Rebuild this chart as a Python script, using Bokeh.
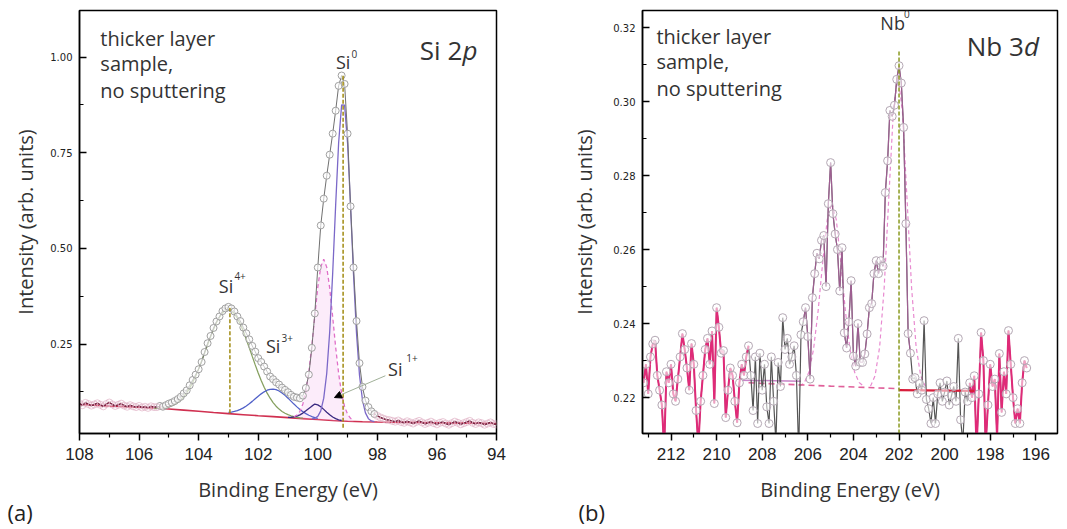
import numpy as np
from bokeh.plotting import figure
from bokeh.models import Range1d, FixedTicker, Label, Arrow, NormalHead, NumeralTickFormatter, Title
from bokeh.layouts import row
from bokeh.embed import file_html
from bokeh.resources import INLINE

FONT = "Open Sans"
TICKFONT = "Liberation Sans"
TXT = "#333333"

# ---------------- Panel (a): Si 2p ----------------
si_energy = np.round(np.arange(108.0, 93.95, -0.1), 1)
si_intensity = [
    0.094, 0.090, 0.096, 0.093, 0.089, 0.092, 0.095, 0.091, 0.087, 0.093,
    0.097, 0.092, 0.088, 0.091, 0.094, 0.089, 0.086, 0.090, 0.087, 0.085,
    0.088, 0.084, 0.086, 0.083, 0.087, 0.085,
    0.085, 0.088, 0.086, 0.090, 0.094, 0.097, 0.101, 0.106, 0.112, 0.121,
    0.129, 0.142, 0.156, 0.170, 0.184, 0.203, 0.229, 0.252, 0.271, 0.292,
    0.309, 0.322, 0.336, 0.343, 0.347,
    0.343, 0.335, 0.322, 0.310, 0.293, 0.278, 0.262, 0.245, 0.230, 0.213,
    0.203, 0.191, 0.178, 0.165, 0.158, 0.150, 0.144, 0.136, 0.130, 0.124,
    0.117, 0.112, 0.110, 0.108, 0.115,
    0.135, 0.170, 0.240, 0.330, 0.450, 0.560, 0.630, 0.690, 0.745, 0.800,
    0.860, 0.925, 0.952, 0.930, 0.800, 0.610, 0.450, 0.310, 0.200, 0.138,
    0.102, 0.085, 0.074, 0.067, 0.062,
    0.058, 0.055, 0.052, 0.051, 0.049, 0.047, 0.050, 0.046, 0.044, 0.048,
    0.045, 0.042, 0.046, 0.049, 0.045, 0.041, 0.044, 0.047, 0.043, 0.040,
    0.044, 0.046, 0.042, 0.039, 0.043, 0.047, 0.044, 0.040, 0.043, 0.046,
    0.049, 0.044, 0.041, 0.045, 0.043, 0.039, 0.042, 0.045, 0.041, 0.040,
]

si_bg_e = [108, 107, 106, 105.5, 105, 104.5, 104, 103.5, 103, 102.5, 102, 101.5,
           101, 100.5, 100, 99.5, 99, 98.5, 98, 97, 96, 95, 94]
si_bg_v = [0.092, 0.088, 0.0845, 0.0825, 0.080, 0.077, 0.074, 0.0708, 0.068, 0.0652,
           0.0625, 0.060, 0.0575, 0.055, 0.0525, 0.050, 0.048, 0.0467, 0.046, 0.045,
           0.044, 0.043, 0.042]

si4_e = np.round(np.arange(105.5, 100.45, -0.1), 1)
si4_v = [0.0815, 0.0816, 0.082, 0.0827, 0.0839, 0.0858, 0.0885, 0.0922, 0.0973, 0.1039,
         0.1123, 0.1227, 0.1351, 0.1498, 0.1665, 0.1853, 0.2054, 0.2264, 0.2478, 0.2688,
         0.2887, 0.3062, 0.3206, 0.3316, 0.3381, 0.340, 0.337, 0.3294, 0.3173, 0.3018,
         0.2832, 0.2622, 0.2401, 0.2176, 0.1954, 0.1743, 0.1547, 0.1371, 0.1216, 0.1082,
         0.0968, 0.0874, 0.0798, 0.0737, 0.069, 0.0653, 0.0624, 0.0602, 0.0585, 0.0571, 0.056]

si3_e = np.round(np.arange(103.0, 99.95, -0.1), 1)
si3_v = [0.0712, 0.0721, 0.0738, 0.076, 0.0792, 0.0831, 0.0881, 0.0937, 0.100, 0.1067,
         0.1134, 0.1197, 0.125, 0.1291, 0.1315, 0.132, 0.1305, 0.1271, 0.122, 0.1157,
         0.1084, 0.1007, 0.0929, 0.0856, 0.0789, 0.0729, 0.0679, 0.0637, 0.0604, 0.0577, 0.0557]

si1_e = np.round(np.arange(101.0, 99.15, -0.1), 1)
si1_v = [0.0582, 0.0585, 0.0594, 0.0614, 0.0647, 0.0694, 0.0753, 0.0816, 0.0875, 0.093,
         0.0909, 0.086, 0.0791, 0.0718, 0.0649, 0.0592, 0.0549, 0.0519, 0.050]

si0b_e = np.round(np.arange(100.8, 98.75, -0.1), 1)
si0b_v = [0.0597, 0.0641, 0.074, 0.0934, 0.1267, 0.178, 0.2455, 0.324, 0.3982, 0.452,
          0.4715, 0.451, 0.3962, 0.321, 0.2415, 0.173, 0.1207, 0.0864, 0.0663, 0.0557, 0.0506]
si0b_base = [0.0565, 0.056, 0.0555, 0.055, 0.0545, 0.054, 0.0535, 0.053, 0.0525, 0.052,
             0.0515, 0.051, 0.0505, 0.050, 0.0495, 0.049, 0.0485, 0.048, 0.0478, 0.0476, 0.0474]

si0a_e = np.round(np.arange(100.2, 98.05, -0.1), 1)
si0a_v = [0.0543, 0.0557, 0.0609, 0.0753, 0.1083, 0.1728, 0.2815, 0.4347, 0.6131, 0.7764,
          0.8751, 0.8746, 0.7752, 0.6112, 0.4321, 0.2782, 0.1688, 0.1036, 0.0699, 0.0548,
          0.0489, 0.0468]

si_peak_pos = [102.95, 99.15]
si_peak_top = [0.344, 0.955]
si_peak_bottom = [0.069, 0.031]

si_x_ticks = [108, 106, 104, 102, 100, 98, 96, 94]
si_x_minor = [107, 105, 103, 101, 99, 97, 95]
si_y_ticks = [0.25, 0.50, 0.75, 1.00]
si_y_minor = [0.125, 0.375, 0.625, 0.875]

# ---------------- Panel (b): Nb 3d ----------------
nb_energy = np.round(np.arange(213.2, 196.35, -0.1), 1)
nb_intensity = [
    0.224, 0.229, 0.221, 0.231, 0.2345, 0.2355, 0.226, 0.222, 0.218, 0.206,
    0.227, 0.224, 0.229, 0.221, 0.219, 0.225, 0.231, 0.2373, 0.233, 0.228,
    0.222, 0.2346, 0.229, 0.2165, 0.207, 0.219, 0.226, 0.233, 0.236, 0.229,
    0.238, 0.2184, 0.2443, 0.239, 0.232, 0.2327, 0.2146, 0.222, 0.228, 0.226,
    0.219, 0.2132, 0.224, 0.229, 0.226, 0.231, 0.234, 0.226, 0.2165, 0.231,
    0.213, 0.232, 0.222, 0.229, 0.2175, 0.213, 0.231, 0.219, 0.208, 0.2295,
    0.223, 0.2416, 0.233, 0.236, 0.229, 0.231, 0.234, 0.226, 0.205, 0.237,
    0.2405, 0.2443, 0.2365, 0.225, 0.247, 0.2535, 0.259, 0.2575, 0.2625, 0.2638,
    0.2500, 0.2724, 0.2835, 0.2697, 0.2642, 0.2600, 0.2488, 0.2605, 0.2375, 0.2334,
    0.2405, 0.2516, 0.2312, 0.2285, 0.2400, 0.2295, 0.2295, 0.2318, 0.2372, 0.2443,
    0.2454, 0.2535, 0.2570, 0.2535, 0.2570, 0.2555, 0.2754, 0.2840, 0.2976, 0.2960,
    0.2990, 0.3060, 0.3097, 0.3050, 0.2930, 0.2670, 0.2373, 0.2320, 0.2250, 0.2254,
    0.2210, 0.2238, 0.2220, 0.2408, 0.2195, 0.2170, 0.2130, 0.2200, 0.2130, 0.2210,
    0.2240, 0.2190, 0.2215, 0.2245, 0.2180, 0.2205, 0.2230, 0.2190, 0.2360, 0.2140,
    0.2080, 0.2215, 0.2190, 0.2240, 0.2200, 0.2259, 0.2060, 0.2210, 0.2376, 0.2300,
    0.2070, 0.2180, 0.2290, 0.2230, 0.2250, 0.2090, 0.2319, 0.2160, 0.2270, 0.2210,
    0.2381, 0.2290, 0.2200, 0.2130, 0.2170, 0.2130, 0.2240, 0.2300, 0.2280,
]

nb_fit_lo, nb_fit_hi = 198.95, 208.55
nb_peak_lo, nb_peak_hi = 201.45, 206.25

nb_bg_dash_e = [208.6, 205.0, 202.0]
nb_bg_dash_v = [0.2240, 0.2231, 0.2224]
nb_bg_solid_e = [202.0, 198.7]
nb_bg_solid_v = [0.2220, 0.2218]
nb_fitbase_e = [208.9, 206.3]
nb_fitbase_v = [0.2247, 0.2244]

nb_a_e = [206.35, 206.15, 205.95, 205.75, 205.55, 205.35, 205.15, 204.95, 204.75, 204.55,
          204.35, 204.15, 203.95, 203.75, 203.55]
nb_a_v = [0.2231, 0.2241, 0.2269, 0.2330, 0.2433, 0.2564, 0.2680, 0.2727, 0.2680, 0.2564,
          0.2433, 0.2330, 0.2269, 0.2241, 0.2231]
nb_b_e = [203.25, 203.05, 202.85, 202.65, 202.45, 202.25, 202.05, 201.85, 201.65, 201.45,
          201.25, 201.05, 200.85]
nb_b_v = [0.2231, 0.2259, 0.2337, 0.2498, 0.2738, 0.2972, 0.3072, 0.2972, 0.2738, 0.2498,
          0.2337, 0.2259, 0.2231]

nb_peak_pos = [202.0]
nb_peak_top = [0.3137]
nb_peak_bottom = [0.2103]

nb_x_ticks = [212, 210, 208, 206, 204, 202, 200, 198, 196]
nb_x_minor = [213, 211, 209, 207, 205, 203, 201, 199, 197, 195]
nb_y_ticks = [0.22, 0.24, 0.26, 0.28, 0.30, 0.32]
nb_y_minor = [0.21, 0.23, 0.25, 0.27, 0.29, 0.31]

H = 528


def make_fig(width, xr, yr, xt, xm, yt, ym, left, top, right, ystand, tag):
    p = figure(width=width, height=H, x_range=Range1d(*xr), y_range=Range1d(*yr),
               output_backend="svg", toolbar_location=None,
               min_border_left=left, min_border_right=right, min_border_top=top,
               min_border_bottom=H - 433)
    p.background_fill_color = "white"
    p.border_fill_color = "white"
    p.outline_line_color = "black"
    p.outline_line_width = 1.5
    p.xgrid.visible = False
    p.ygrid.visible = False
    p.xaxis.ticker = FixedTicker(ticks=xt, minor_ticks=xm)
    p.yaxis.ticker = FixedTicker(ticks=yt, minor_ticks=ym)
    p.yaxis.formatter = NumeralTickFormatter(format="0.00")
    for ax in (p.xaxis[0], p.yaxis[0]):
        ax.axis_line_width = 1.5
        ax.major_tick_line_width = 1.5
        ax.minor_tick_line_width = 1.2
        ax.axis_label_text_font = FONT
        ax.axis_label_text_font_size = "20px"
        ax.axis_label_text_font_style = "normal"
        ax.axis_label_text_color = TXT
        ax.major_label_text_color = "#222222"
    p.xaxis.major_label_text_font = TICKFONT
    p.yaxis.major_label_text_font = "DejaVu Sans"
    p.xaxis.major_tick_out = 7
    p.xaxis.major_tick_in = 0
    p.xaxis.minor_tick_out = 4
    p.xaxis.minor_tick_in = 0
    p.yaxis.major_tick_in = 7
    p.yaxis.major_tick_out = 0
    p.yaxis.minor_tick_in = 4
    p.yaxis.minor_tick_out = 0
    p.xaxis.major_label_text_font_size = "17px"
    p.yaxis.major_label_text_font_size = "10px"
    p.xaxis.major_label_standoff = 7
    p.yaxis.major_label_standoff = 7
    p.xaxis.axis_label = "Binding Energy (eV)"
    p.yaxis.axis_label = "Intensity (arb. units)"
    p.xaxis.axis_label_standoff = 13
    p.yaxis.axis_label_standoff = ystand
    p.add_layout(Title(text=tag, align="left", offset=-left + 7, text_font=FONT,
                       text_font_size="22px", text_font_style="normal",
                       text_color="#222222", standoff=-18, vertical_align="top"), "below")
    return p


def lab(p, x, y, text, size, align="left", style="normal", color=TXT):
    p.add_layout(Label(x=x, y=y, text=text, text_font=FONT, text_font_size=f"{size}px",
                       text_align=align, text_baseline="middle", text_font_style=style,
                       text_color=color))


# ---- build panel (a)
pa = make_fig(568, (108, 94), (0.016, 1.122), si_x_ticks, si_x_minor, si_y_ticks, si_y_minor,
              79, 8, 72, 8, "(a)")

pa.line(si_bg_e, si_bg_v, line_color="#d03050", line_width=1.6)
pa.varea(x=si0b_e, y1=si0b_base, y2=si0b_v, fill_color="#f4c0ee", fill_alpha=0.3)
pa.line(si4_e, si4_v, line_color="#86a060", line_width=1.3)
pa.line(si3_e, si3_v, line_color="#5060c8", line_width=1.3)
pa.line(si1_e, si1_v, line_color="#3a2a80", line_width=1.3)
pa.line(si0b_e, si0b_v, line_color="#e070c8", line_width=1.3, line_dash="4 3")
pa.line(si0a_e, si0a_v, line_color="#7b68c8", line_width=1.3)

pa.line(si_energy, si_intensity, line_color="#707070", line_width=1)
seg1 = [i for i, e in enumerate(si_energy) if e >= 105.35]
seg2 = [i for i, e in enumerate(si_energy) if e <= 98.05]
for seg in (seg1, seg2):
    pa.line([si_energy[i] for i in seg], [si_intensity[i] for i in seg],
            line_color="#7a2040", line_width=1.5)
base_a = seg1 + seg2
peak_idx = [i for i in range(len(si_energy)) if i not in base_a]
pa.scatter([si_energy[i] for i in peak_idx], [si_intensity[i] for i in peak_idx],
           marker="circle", size=7, line_color="#a0a0a0", fill_color="white",
           fill_alpha=0.6, line_width=1)
pa.scatter([si_energy[i] for i in base_a], [si_intensity[i] for i in base_a],
           marker="circle", size=7, line_color="#e0b0c4", fill_color="white",
           fill_alpha=0.0, line_width=1, line_alpha=0.7)

pa.segment(x0=si_peak_pos, y0=si_peak_bottom, x1=si_peak_pos, y1=si_peak_top,
           line_color="#a08a10", line_width=1.5, line_dash="4 2")

pa.add_layout(Arrow(end=NormalHead(size=7, fill_color="black", line_color="black"),
                    x_start=97.73, y_start=0.167, x_end=99.44, y_end=0.110,
                    line_color="#a0b098", line_width=1))

lab(pa, 107.3, 1.049, "thicker layer", 20)
lab(pa, 107.3, 0.984, "sample,", 20)
lab(pa, 107.3, 0.914, "no sputtering", 20)
lab(pa, 95.15, 1.018, "Si 2", 26, align="right")
lab(pa, 95.14, 1.018, "p", 26, style="italic")
lab(pa, 103.08, 0.402, "Si", 18, align="center")
lab(pa, 102.8, 0.428, "4+", 10)
lab(pa, 101.5, 0.244, "Si", 18, align="center")
lab(pa, 101.22, 0.266, "3+", 10)
lab(pa, 97.4, 0.185, "Si", 18, align="center")
lab(pa, 97.03, 0.214, "1+", 10)
lab(pa, 99.15, 0.987, "Si", 18, align="center")
lab(pa, 98.87, 1.009, "0", 10)

# ---- build panel (b)
pb = make_fig(491, (213.25, 195.05), (0.2103, 0.3246), nb_x_ticks, nb_x_minor, nb_y_ticks,
              nb_y_minor, 71, 10, 2, 12, "(b)")

pb.line(nb_a_e, nb_a_v, line_color="#e88ad0", line_width=1.2, line_dash="4 3")
pb.line(nb_b_e, nb_b_v, line_color="#e88ad0", line_width=1.2, line_dash="4 3")
pb.line(nb_bg_dash_e, nb_bg_dash_v, line_color="#e0609a", line_width=1.6, line_dash="6 4")
pb.line(nb_fitbase_e, nb_fitbase_v, line_color="#b050b0", line_width=1.5, line_alpha=0.7)
pb.line(nb_energy, nb_intensity, line_color="#555555", line_width=1.2)
left_i = [i for i, e in enumerate(nb_energy) if e >= nb_fit_hi]
right_i = [i for i, e in enumerate(nb_energy) if e <= nb_fit_lo]
for seg in (left_i, right_i):
    pb.line([nb_energy[i] for i in seg], [nb_intensity[i] for i in seg],
            line_color="#e02a78", line_width=2)
mid_i = [i for i, e in enumerate(nb_energy) if nb_peak_lo <= e <= nb_peak_hi]
pb.line([nb_energy[i] for i in mid_i], [nb_intensity[i] for i in mid_i],
        line_color="#b060a0", line_width=1.2, line_alpha=0.8)
pb.line(nb_bg_solid_e, nb_bg_solid_v, line_color="#d81e3c", line_width=2.2)
pb.scatter(nb_energy, nb_intensity, marker="circle", size=8, line_color="#b4a8b4",
           fill_color="white", fill_alpha=0.55, line_width=1)
pb.segment(x0=nb_peak_pos, y0=nb_peak_bottom, x1=nb_peak_pos, y1=nb_peak_top,
           line_color="#8a9a20", line_width=1.5, line_dash="4 2")

lab(pb, 212.64, 0.3176, "thicker layer", 20)
lab(pb, 212.64, 0.3108, "sample,", 20)
lab(pb, 212.64, 0.3035, "no sputtering", 20)
lab(pb, 196.53, 0.3151, "Nb 3", 26, align="right")
lab(pb, 196.52, 0.3151, "d", 26, style="italic")
lab(pb, 202.28, 0.3211, "Nb", 18, align="center")
lab(pb, 201.78, 0.3237, "0", 10)

layout = row(pa, pb)
open("out.html", "w").write(file_html(layout, INLINE))
